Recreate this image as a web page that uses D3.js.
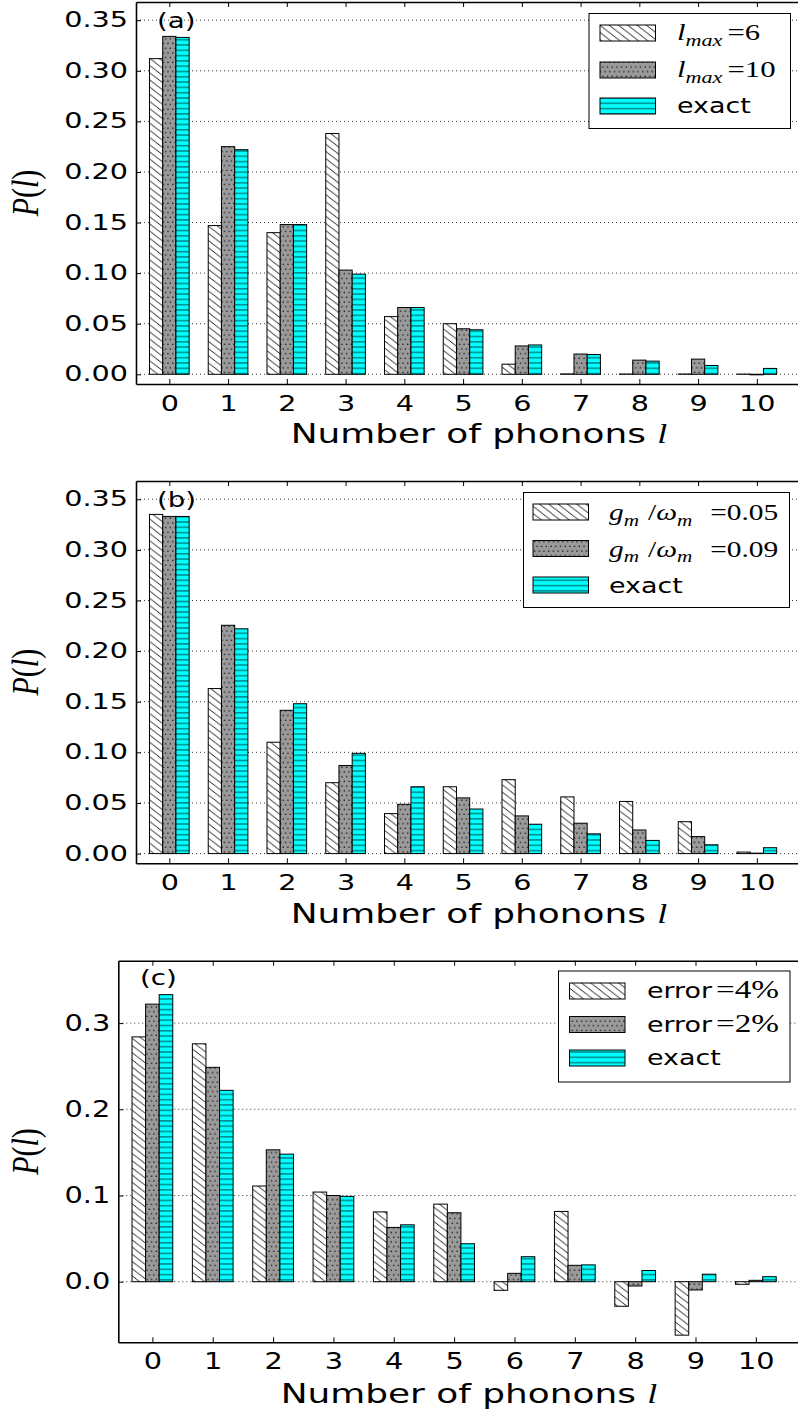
<!DOCTYPE html>
<html>
<head>
<meta charset="utf-8">
<script src="https://cdn.jsdelivr.net/npm/d3@7"></script>
<style>
  body { margin: 0; background: #fff; }
  text { white-space: pre; }
</style>
</head>
<body>
<svg id="fig" width="798" height="1412"></svg>
<script>
// data
const phonons = [0, 1, 2, 3, 4, 5, 6, 7, 8, 9, 10];
const exact  = [0.333, 0.222, 0.148, 0.099, 0.066, 0.044, 0.029, 0.0195, 0.013, 0.0087, 0.0058];

// (a) truncation of the phonon space
const lmax6  = [0.312, 0.147, 0.140, 0.238, 0.057, 0.050, 0.010, 0.0004, 0.0003, 0.0003, 0.0002];
const lmax10 = [0.334, 0.225, 0.148, 0.103, 0.066, 0.045, 0.028, 0.020, 0.014, 0.015, -0.0005];

// (b) coupling strength
const g005 = [0.335, 0.163, 0.110, 0.070, 0.0395, 0.066, 0.073, 0.056, 0.0515, 0.0315, 0.0015];
const g009 = [0.333, 0.2255, 0.1415, 0.087, 0.0487, 0.055, 0.0372, 0.030, 0.0233, 0.0168, 0.0004];

// (c) measurement error
const err4 = [0.284, 0.276, 0.111, 0.104, 0.081, 0.090, -0.010, 0.0815, -0.0285, -0.062, -0.003];
const err2 = [0.322, 0.2487, 0.153, 0.100, 0.063, 0.080, 0.0097, 0.019, -0.005, -0.0096, 0.0016];

const ticksAB = [0, 0.05, 0.10, 0.15, 0.20, 0.25, 0.30, 0.35];
const ticksC  = [0, 0.1, 0.2, 0.3];

const SANS = "'DejaVu Sans', sans-serif";
const SERIF = "'Liberation Serif', 'DejaVu Serif', serif";
const barW = 0.225;

const svg = d3.select('#fig');
svg.append('rect').attr('width', 798).attr('height', 1412).attr('fill', '#fff');

// fill patterns
const defs = svg.append('defs');
const hw = 9.3, hh = 7.2;
const hatch = defs.append('pattern').attr('id', 'hatch')
  .attr('patternUnits', 'userSpaceOnUse').attr('width', hw).attr('height', hh);
hatch.append('rect').attr('width', hw).attr('height', hh).attr('fill', '#fff');
hatch.append('path')
  .attr('d', `M${-hw*0.2},${-hh*0.2}L${hw*1.2},${hh*1.2}` +
             `M${hw*0.8},${-hh*0.2}L${hw*1.2},${hh*0.2}` +
             `M${-hw*0.2},${hh*0.8}L${hw*0.2},${hh*1.2}`)
  .attr('stroke', '#000').attr('stroke-width', 0.9);

const dots = defs.append('pattern').attr('id', 'dots')
  .attr('patternUnits', 'userSpaceOnUse').attr('width', 4.7).attr('height', 9.4);
dots.append('rect').attr('width', 4.7).attr('height', 9.4).attr('fill', '#9a9a9a');
dots.append('circle').attr('cx', 1.2).attr('cy', 1.2).attr('r', 0.75).attr('fill', '#000');
dots.append('circle').attr('cx', 3.55).attr('cy', 5.9).attr('r', 0.75).attr('fill', '#000');

const hlines = defs.append('pattern').attr('id', 'hlines')
  .attr('patternUnits', 'userSpaceOnUse').attr('width', 4).attr('height', 5.3);
hlines.append('rect').attr('width', 4).attr('height', 5.3).attr('fill', '#00ffff');
hlines.append('line').attr('x1', 0).attr('x2', 4).attr('y1', 2.6).attr('y2', 2.6)
  .attr('stroke', '#000').attr('stroke-opacity', 0.7).attr('stroke-width', 1);

// text made of pieces (sans / math italic / subscripts)
function richText(parent, segs, fs, transform, anchor, mfs) {
  mfs = mfs || fs;
  const t = parent.append('text')
    .attr('transform', transform)
    .attr('font-size', fs)
    .attr('text-anchor', anchor || 'start')
    .attr('fill', '#000');
  let shift = 0;
  segs.forEach(s => {
    const ts = t.append('tspan').text(s.t)
      .attr('font-family', s.sans ? SANS : SERIF);
    if (s.it) ts.attr('font-style', 'italic');
    const target = s.sub ? mfs * 0.25 : 0;
    if (target !== shift) { ts.attr('dy', target - shift); shift = target; }
    if (s.sub) ts.attr('font-size', mfs * 0.72);
    else if (!s.sans) ts.attr('font-size', mfs);
    if (s.dx) ts.attr('dx', s.dx);
  });
  return t;
}

function panel(cfg) {
  const g = svg.append('g');
  const x = d3.scaleLinear().domain(cfg.xDomain).range(cfg.xRange);
  const y = d3.scaleLinear().domain(cfg.yDomain).range(cfg.yRange);
  const xl = cfg.xRange[0], yb = cfg.yRange[0], yt = cfg.yRange[1];

  // dotted grid
  g.append('g').selectAll('line').data(cfg.yTicks).join('line')
    .attr('x1', xl).attr('x2', 800)
    .attr('y1', d => y(d)).attr('y2', d => y(d))
    .attr('stroke', '#222').attr('stroke-width', 0.9)
    .attr('stroke-dasharray', '1,3');

  // bars
  cfg.series.forEach((s, k) => {
    g.append('g').selectAll('rect').data(s.values).join('rect')
      .attr('x', (d, i) => x(phonons[i] - 1.5 * barW + k * barW))
      .attr('width', x(barW) - x(0))
      .attr('y', d => y(Math.max(0, d)))
      .attr('height', d => Math.abs(y(d) - y(0)))
      .attr('fill', `url(#${s.pattern})`)
      .attr('stroke', '#000').attr('stroke-width', 1);
  });

  // axes
  const bottom = g.append('g').attr('transform', `translate(0,${yb})`)
    .call(d3.axisBottom(x).tickValues(phonons).tickSizeInner(-5).tickSizeOuter(0)
      .tickPadding(cfg.xPad));
  g.append('g').attr('transform', `translate(0,${yt})`)
    .call(d3.axisTop(x).tickValues(phonons).tickSizeInner(-5).tickSizeOuter(0)
      .tickFormat(''));
  const left = g.append('g').attr('transform', `translate(${xl},0)`)
    .call(d3.axisLeft(y).tickValues(cfg.yTicks).tickFormat(d3.format(cfg.fmt))
      .tickSizeInner(-5).tickSizeOuter(0).tickPadding(8));

  g.selectAll('.domain').attr('stroke-width', 1.6);
  g.selectAll('.tick line').attr('stroke-width', 1);
  [bottom, left].forEach(a => a.attr('font-family', SANS).attr('font-size', cfg.tickFs));
  bottom.selectAll('text').attr('transform', `scale(${cfg.tickSx},1)`);
  left.selectAll('text')
    .attr('transform', `translate(-8,0) scale(${cfg.tickSx},1)`).attr('x', 0);

  // panel letter
  g.append('text').text(cfg.letter)
    .attr('font-family', SANS).attr('font-size', cfg.letterFs)
    .attr('transform', `translate(${cfg.letterX},${cfg.letterY}) scale(1.35,1)`);

  // axis titles
  richText(g, [{ t: 'Number of phonons', sans: true }, { t: 'l', it: true, dx: cfg.labelFs * 0.32 }],
    cfg.labelFs, `translate(${cfg.xLabelX},${cfg.xLabelY}) scale(${cfg.labelSx},1)`, 'middle');
  richText(g, [{ t: 'P', it: true }, { t: '(' }, { t: 'l', it: true }, { t: ')' }],
    cfg.yLabelFs, `translate(${cfg.yLabelX},${(yb + yt) / 2}) scale(1.25,1) rotate(-90)`, 'middle');

  // legend
  const L = cfg.legend;
  g.append('rect').attr('x', L.x).attr('y', L.y).attr('width', L.w).attr('height', L.h)
    .attr('fill', '#fff').attr('stroke', '#000').attr('stroke-width', 1);
  cfg.series.forEach((s, k) => {
    const base = L.rows[k];
    g.append('rect').attr('x', L.px).attr('y', base - L.pOff - 8).attr('width', 55.5).attr('height', 16)
      .attr('fill', `url(#${s.pattern})`).attr('stroke', '#000').attr('stroke-width', 1);
    richText(g, s.label, L.fs, `translate(${L.tx},${base}) scale(${L.sx},1)`, 'start', L.mfs);
  });
}

const lmaxLabel = v => [{ t: 'l', it: true }, { t: 'max', it: true, sub: true }, { t: '=' + v, dx: 4 }];
const gLabel = v => [{ t: 'g', it: true }, { t: 'm', it: true, sub: true }, { t: '/', dx: 7 },
  { t: 'ω', it: true }, { t: 'm', it: true, sub: true }, { t: '=' + v, dx: 14 }];
const errLabel = v => [{ t: 'error', sans: true }, { t: '=' + v + '%', dx: 3 }];
const exactLabel = [{ t: 'exact', sans: true }];

const common = {
  tickFs: 20.5, tickSx: 1.4, labelFs: 27, labelSx: 1.33, yLabelFs: 30,
  letterFs: 20.5, yLabelX: 38, xPad: 12
};

panel(Object.assign({}, common, {
  xDomain: [-0.567, 11], xRange: [136, 815.6],
  yDomain: [-0.0096, 0.368], yRange: [384, 2],
  yTicks: ticksAB, fmt: '.2f',
  letter: '(a)', letterX: 157, letterY: 27.5,
  xLabelX: 479, xLabelY: 443,
  series: [
    { values: lmax6, pattern: 'hatch', label: lmaxLabel(6) },
    { values: lmax10, pattern: 'dots', label: lmaxLabel(10) },
    { values: exact, pattern: 'hlines', label: exactLabel }
  ],
  legend: { x: 589, y: 13.5, w: 201.5, h: 115, px: 600, tx: 677, rows: [40, 77, 113], pOff: 7, fs: 21, mfs: 24, sx: 1.28 }
}));

panel(Object.assign({}, common, {
  xDomain: [-0.567, 11], xRange: [136, 815.6],
  yDomain: [-0.0096, 0.368], yRange: [863.3, 481],
  yTicks: ticksAB, fmt: '.2f',
  letter: '(b)', letterX: 157, letterY: 506.5,
  xLabelX: 479, xLabelY: 922.7,
  series: [
    { values: g005, pattern: 'hatch', label: gLabel('0.05') },
    { values: g009, pattern: 'dots', label: gLabel('0.09') },
    { values: exact, pattern: 'hlines', label: exactLabel }
  ],
  legend: { x: 523.5, y: 492.5, w: 266, h: 115, px: 533, tx: 609, rows: [520, 556.5, 593], pOff: 8, fs: 21, mfs: 23, sx: 1.28 }
}));

panel(Object.assign({}, common, {
  tickFs: 22.5, tickSx: 1.28, xPad: 11,
  xDomain: [-0.565, 11], xRange: [118.3, 816.2],
  yDomain: [-0.0703, 0.3724], yRange: [1342.3, 960.7],
  yTicks: ticksC, fmt: '.1f',
  letter: '(c)', letterX: 140, letterY: 985,
  xLabelX: 469, xLabelY: 1403,
  series: [
    { values: err4, pattern: 'hatch', label: errLabel(4) },
    { values: err2, pattern: 'dots', label: errLabel(2) },
    { values: exact, pattern: 'hlines', label: exactLabel }
  ],
  legend: { x: 558.5, y: 971, w: 231.5, h: 111, px: 569.5, tx: 647, rows: [998, 1031.5, 1065], pOff: 7, fs: 21, mfs: 26, sx: 1.28 }
}));
</script>
</body>
</html>
